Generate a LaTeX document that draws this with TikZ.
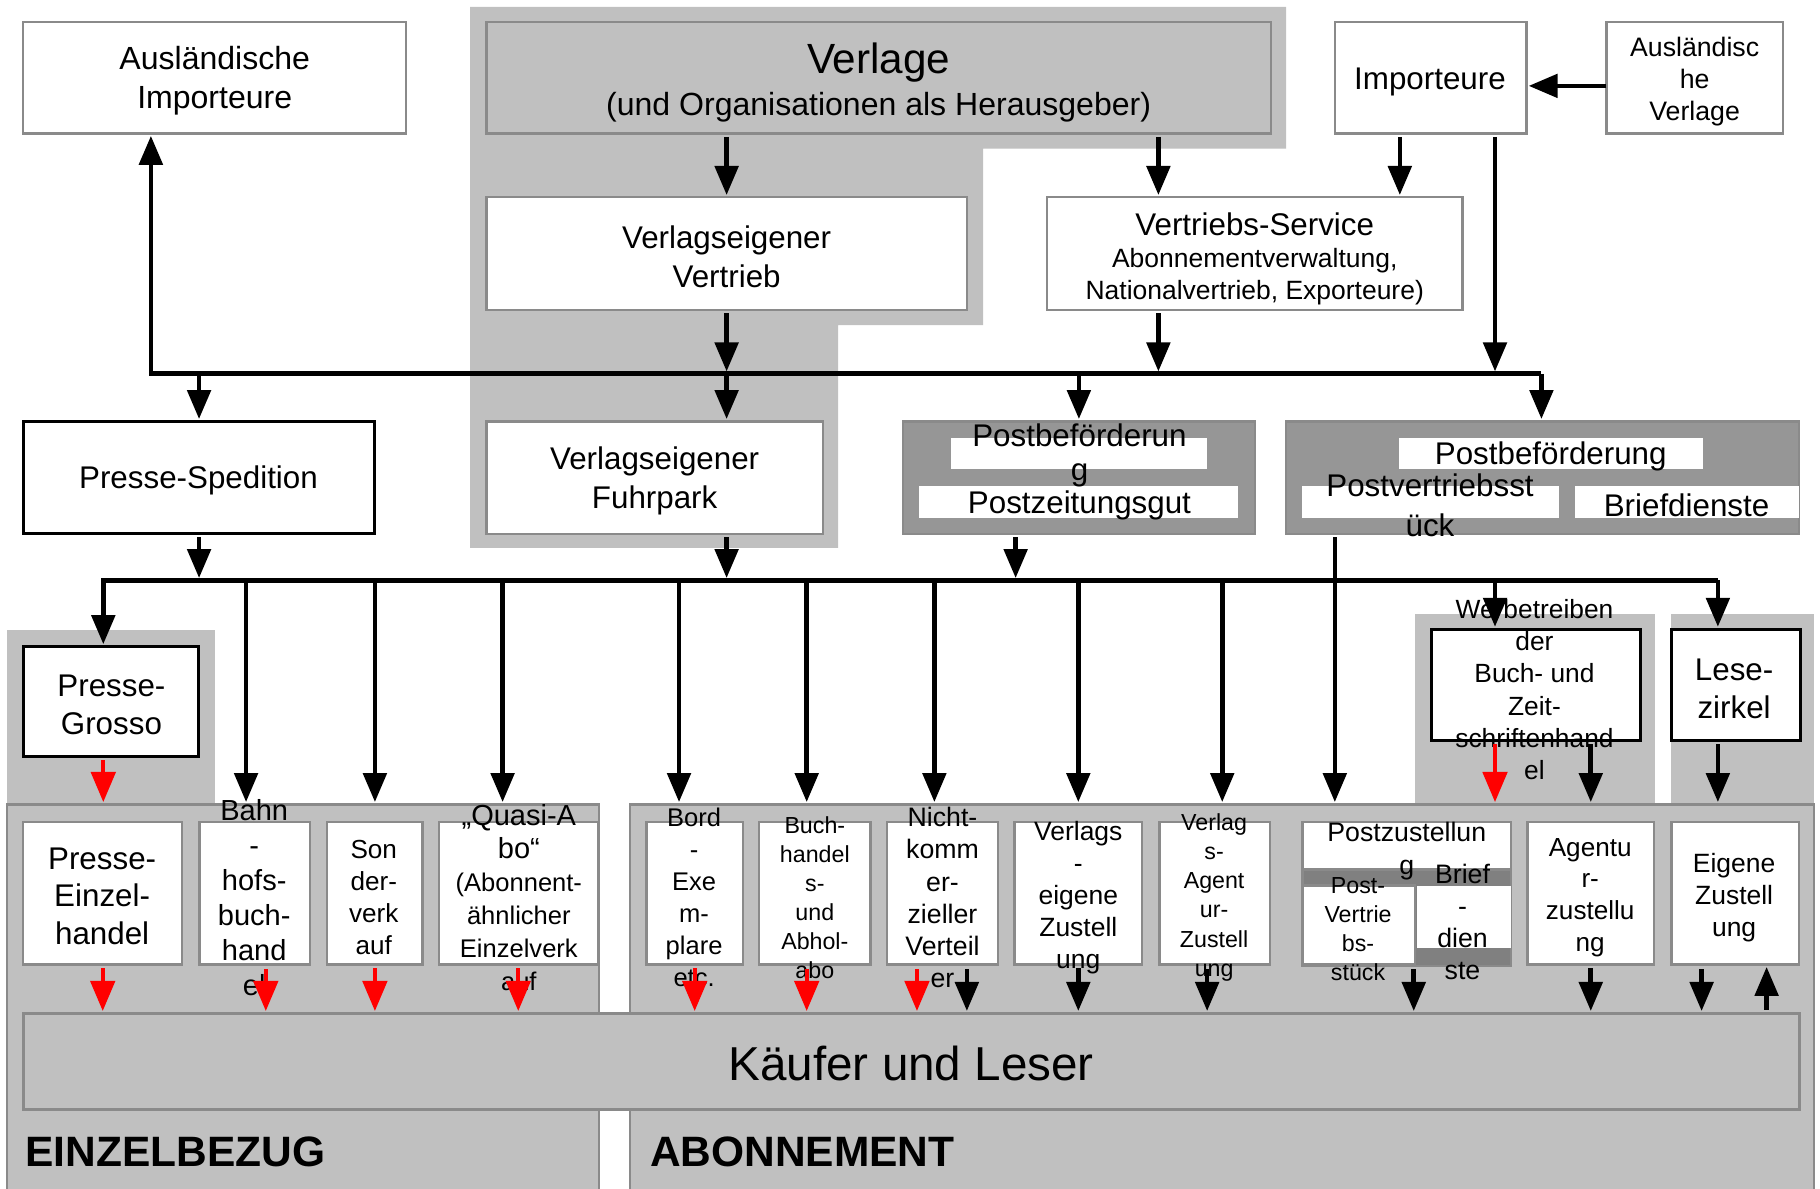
\documentclass[tikz,border=0pt]{standalone}
\usepackage{fontspec}
\setmainfont{Liberation Sans}
\usetikzlibrary{arrows.meta,calc,fit}
\definecolor{lgray}{HTML}{C0C0C0}
\definecolor{dgray}{HTML}{969696}
\definecolor{bgray}{HTML}{8A8A8A}
\definecolor{band}{HTML}{808080}
\newcommand\fsz[2]{\fontsize{#1}{#2}\selectfont}
\newcommand\bx[6]{\node[#2, fit={(#3,#4) (#5,#6)}] (#1) {};}
\begin{document}
\begin{tikzpicture}[x=0.5pt,y=-0.5pt,
  every node/.style={inner sep=0pt,outer sep=0pt},
  region/.style={fill=lgray,draw=none},
  regionb/.style={fill=lgray,draw=bgray,line width=1pt},
  wbox/.style={fill=white,draw=bgray,line width=1pt},
  gbox/.style={fill=lgray,draw=bgray,line width=1.2pt},
  dbox/.style={fill=dgray,draw=bgray,line width=1pt},
  bbox/.style={fill=band,draw=bgray,line width=1pt},
  kbox/.style={fill=white,draw=black,line width=1.3pt},
  wfill/.style={fill=white,draw=none},
  txt/.style={align=center,font=\fsz{13.5}{16.5},yshift=-1.1pt},
  arr/.style={line width=2pt,-{Triangle[length=12.5pt,width=10pt]},shorten >=1pt},
  rarr/.style={line width=1.7pt,red,-{Triangle[length=13pt,width=10.5pt]},shorten >=1pt},
  gap/.style={shorten <=1.5pt},
]
\useasboundingbox (0,0) rectangle (1568,1024);
\fill[white] (0,0) rectangle (1568,1024);

% ---------- regions ----------
\fill[lgray] (405,6) -- (1108,6) -- (1108,128) -- (847,128) -- (847,280) -- (722,280) -- (722,472) -- (405,472) -- cycle;
\bx{grossoReg}{region}{6}{543}{185}{694}
\bx{werbReg}{region}{1219}{529}{1426}{694}
\bx{leseReg}{region}{1440}{529}{1563}{694}
\bx{einzReg}{regionb}{6}{693}{516}{1032}
\bx{aboReg}{regionb}{543}{693}{1563}{1032}

% ---------- boxes ----------
\bx{ausimp}{wbox}{20}{19}{350}{115}
\bx{verlage}{gbox}{419}{19}{1095}{115}
\bx{vev}{wbox}{419}{170}{833}{267}
\bx{vs}{wbox}{902}{170}{1260}{267}
\bx{imp}{wbox}{1150}{19}{1315}{115}
\bx{ausverl}{wbox}{1384}{19}{1536}{115}
\bx{sped}{kbox}{20}{363}{323}{460}
\bx{fuhr}{wbox}{419}{363}{709}{460}
\bx{pzg}{dbox}{778}{363}{1081}{460}
\bx{pzgA}{wfill}{819}{377}{1040}{404}
\bx{pzgB}{wfill}{792}{419}{1067}{446}
\bx{pbr}{dbox}{1108}{363}{1550}{460}
\bx{pbrA}{wfill}{1205}{377}{1467}{404}
\bx{pbrB}{wfill}{1122}{419}{1343}{446}
\bx{pbrC}{wfill}{1357}{419}{1550}{446}
\bx{grosso}{kbox}{20}{557}{171}{652}
\bx{werb}{kbox}{1233}{542}{1413}{638}
\bx{lese}{kbox}{1440}{542}{1551}{638}
\bx{kaeufer}{gbox}{20}{873}{1550}{956}
\bx{pe}{wbox}{20}{708}{157}{831}
\bx{bhf}{wbox}{172}{708}{267}{831}
\bx{sv}{wbox}{282}{708}{364}{831}
\bx{qa}{wbox}{378}{708}{515}{831}
\bx{bord}{wbox}{557}{708}{640}{831}
\bx{bh}{wbox}{654}{708}{750}{831}
\bx{nk}{wbox}{764}{708}{860}{831}
\bx{ve}{wbox}{874}{708}{984}{831}
\bx{va}{wbox}{999}{708}{1094}{831}
\bx{pz}{bbox}{1122}{708}{1302}{832}
\bx{pzT}{wbox}{1122}{708}{1302}{749}
\bx{pzL}{wbox}{1122}{763}{1219}{831}
\bx{pzR}{wfill}{1221}{763}{1302}{817}
\bx{az}{wbox}{1316}{708}{1425}{831}
\bx{ez}{wbox}{1440}{708}{1550}{831}

% ---------- texts ----------
\node[txt,font=\fsz{13.8}{16.8}] (t-ausimp) at (185,67) {Ausländische\\Importeure};
\node[txt,font=\fsz{18.2}{20}] (t-verl1) at (757,52) {Verlage};
\node[txt,font=\fsz{13.8}{16.5}] (t-verl2) at (757,90) {(und Organisationen als Herausgeber)};
\node[txt] (t-vev) at (626,219) {Verlagseigener\\Vertrieb};
\node[txt] (t-vs1) at (1081,191) {Vertriebs-Service};
\node[txt,font=\fsz{11.4}{14}] (t-vs2) at (1081,222) {Abonnementverwaltung,};
\node[txt,font=\fsz{11.4}{14}] (t-vs3) at (1081,250) {Nationalvertrieb, Exporteure)};
\node[txt] (t-imp) at (1232,68) {Importeure};
\node[txt,font=\fsz{11.5}{13.75}] (t-ausverl) at (1460,68) {Ausländisc\\he\\Verlage};
\node[txt] (t-sped) at (171,412) {Presse-Spedition};
\node[txt] (t-fuhr) at (564,412) {Verlagseigener\\Fuhrpark};
\node[txt,font=\fsz{13.5}{14.5}] (t-pzgA) at (930,390) {Postbeförderun\\g};
\node[txt] (t-pzgB) at (930,433) {Postzeitungsgut};
\node[txt] (t-pbrA) at (1336,391) {Postbeförderung};
\node[txt,font=\fsz{13.5}{17}] (t-pbrB) at (1232,433) {Postvertriebsst\\ück};
\node[txt] (t-pbrC) at (1453,433) {Briefdienste};
\node[txt] (t-grosso) at (96,605) {Presse-\\Grosso};
\node[txt,font=\fsz{11.35}{13.9}] (t-werb) at (1322,592) {Werbetreiben\\der\\Buch- und\\Zeit-\\schriftenhand\\el};
\node[txt] (t-lese) at (1494,591) {Lese-\\zirkel};
\node[txt,font=\fsz{20.5}{24}] (t-kaeufer) at (785,914) {Käufer und Leser};
\node[anchor=west,font=\fsz{18.3}{22}\bfseries] (t-einz) at (22,992) {EINZELBEZUG};
\node[anchor=west,font=\fsz{18.3}{22}\bfseries] (t-abo) at (560,992) {ABONNEMENT};
\node[txt,font=\fsz{13.5}{16.25}] (t-pe) at (88,770) {Presse-\\Einzel-\\handel};
\node[txt,font=\fsz{12.5}{15.1}] (t-bhf) at (219,771) {Bahn\\-\\hofs-\\buch-\\hand\\el};
\node[txt,font=\fsz{11.25}{13.65}] (t-sv) at (322,771) {Son\\der-\\verk\\auf};
\node[txt,font=\fsz{11}{14.2}] (t-qa) at (447,771) {{\fsz{12.5}{14.2}„Quasi-A}\\{\fsz{12.5}{14.2}bo“}\\(Abonnent-\\ähnlicher\\Einzelverk\\auf};
\node[txt,font=\fsz{11}{13.8}] (t-bord) at (598,771) {Bord\\-\\Exe\\m-\\plare\\etc.};
\node[txt,font=\fsz{10}{12.5}] (t-bh) at (702,771) {Buch-\\handel\\s-\\und\\Abhol-\\abo};
\node[txt,font=\fsz{11.5}{13.8}] (t-nk) at (812,771) {Nicht-\\komm\\er-\\zieller\\Verteil\\er};
\node[txt,font=\fsz{11.4}{13.75}] (t-ve) at (929,771) {Verlags\\-\\eigene\\Zustell\\ung};
\node[txt,font=\fsz{10}{12.5}] (t-va) at (1046,771) {Verlag\\s-\\Agent\\ur-\\Zustell\\ung};
\node[txt,font=\fsz{11.5}{14.5}] (t-pzT) at (1212,731) {Postzustellun\\g};
\node[txt,font=\fsz{11.5}{13.85}] (t-pzR) at (1260,792) {Brief\\-\\dien\\ste};
\node[txt,font=\fsz{10}{12.5}] (t-pzL) at (1170,798) {Post-\\Vertrie\\bs-\\stück};
\node[txt,font=\fsz{11.25}{13.65}] (t-az) at (1370,771) {Agentu\\r-\\zustellu\\ng};
\node[txt,font=\fsz{11.4}{13.75}] (t-ez) at (1494,771) {Eigene\\Zustell\\ung};

% ---------- helper coordinates ----------
\coordinate (b1L) at (130,322);
\coordinate (b1R) at (1328,322);
\coordinate (b2L) at (89,500);
\coordinate (b2R) at (1480,500);
\coordinate (xvs) at (998,0);
\coordinate (xi1) at (1206,0);
\coordinate (xi2) at (1288,0);
\coordinate (xpz) at (875,0);
\coordinate (xpb) at (1150,0);
\coordinate (d212) at (212,500);
\coordinate (d433) at (433,500);
\coordinate (d585) at (585,500);
\coordinate (d695) at (695,500);
\coordinate (d805) at (805,500);
\coordinate (d1053) at (1053,500);
\coordinate (r229) at (229,835);
\coordinate (r695) at (695,835);
\coordinate (r790) at (790,835);
\coordinate (k833) at (833,835);
\coordinate (k1040) at (1040,835);
\coordinate (k1218) at (1218,835);
\coordinate (k1466) at (1466,835);
\coordinate (u1522) at (1522,835);

% ---------- upper connectors ----------
\draw[arr] ($(ausverl.west)+(0,7)$) -- ($(imp.east)+(0,7)$);
\draw[arr,gap] (verlage.south -| vev.north) -- (vev.north);
\draw[arr,gap] (verlage.south -| xvs) -- (vs.north -| xvs);
\draw[arr,gap] (imp.south -| xi1) -- (vs.north -| xi1);
\draw[arr,gap] (imp.south -| xi2) -- (b1L -| xi2);
\draw[arr,gap] (vev.south) -- (vev.south |- b1L);
\draw[arr,gap] (vs.south -| xvs) -- (b1L -| xvs);
\draw[arr] (b1R) -- (b1L) -- (b1L |- ausimp.south);
\draw[arr] (b1R) -- (b1R |- pbr.north);
\draw[arr] (sped.north |- b1L) -- (sped.north);
\draw[arr] (vev.south |- b1L) -- (vev.south |- fuhr.north);
\draw[arr] (pzg.north |- b1L) -- (pzg.north);

% ---------- second bus ----------
\draw[arr,gap] (sped.south) -- (sped.south |- b2L);
\draw[arr,gap] (fuhr.south -| vev.south) -- (b2L -| vev.south);
\draw[arr,gap] (pzg.south -| xpz) -- (b2L -| xpz);
\draw[arr,gap] (pbr.south -| xpb) -- (aboReg.north -| xpb);
\draw[arr] (b2R) -- (b2L) -- (b2L |- grosso.north);
\draw[arr] (b2R) -- (b2R |- lese.north);
\draw[arr] (d212) -- (d212 |- einzReg.north);
\draw[arr] (sv.north |- b2L) -- (sv.north |- einzReg.north);
\draw[arr] (d433) -- (d433 |- einzReg.north);
\draw[arr] (d585) -- (d585 |- aboReg.north);
\draw[arr] (d695) -- (d695 |- aboReg.north);
\draw[arr] (d805) -- (d805 |- aboReg.north);
\draw[arr] (ve.north |- b2L) -- (ve.north |- aboReg.north);
\draw[arr] (d1053) -- (d1053 |- aboReg.north);
\draw[arr] (xi2 |- b2L) -- (xi2 |- werb.north);

% ---------- into the lower regions ----------
\draw[rarr,gap] (grosso.south -| b2L) -- (b2L |- einzReg.north);
\draw[rarr,gap] (werb.south -| xi2) -- (xi2 |- aboReg.north);
\draw[arr,gap] (werb.south -| az.north) -- (az.north |- aboReg.north);
\draw[arr,gap] (lese.south -| b2R) -- (b2R |- aboReg.north);

% ---------- to Käufer und Leser ----------
\draw[rarr,gap] (pe.south) -- (pe.south |- kaeufer.north);
\draw[rarr] (r229) -- (r229 |- kaeufer.north);
\draw[rarr,gap] (sv.south) -- (sv.south |- kaeufer.north);
\draw[rarr,gap] (qa.south) -- (qa.south |- kaeufer.north);
\draw[rarr,gap] (bord.south) -- (bord.south |- kaeufer.north);
\draw[rarr] (r695) -- (r695 |- kaeufer.north);
\draw[rarr] (r790) -- (r790 |- kaeufer.north);
\draw[arr] (k833) -- (k833 |- kaeufer.north);
\draw[arr,gap] (ve.south) -- (ve.south |- kaeufer.north);
\draw[arr] (k1040) -- (k1040 |- kaeufer.north);
\draw[arr] (k1218) -- (k1218 |- kaeufer.north);
\draw[arr,gap] (az.south) -- (az.south |- kaeufer.north);
\draw[arr] (k1466) -- (k1466 |- kaeufer.north);
\draw[arr,gap] (u1522 |- kaeufer.north) -- (u1522 |- ez.south);
\end{tikzpicture}
\end{document}
